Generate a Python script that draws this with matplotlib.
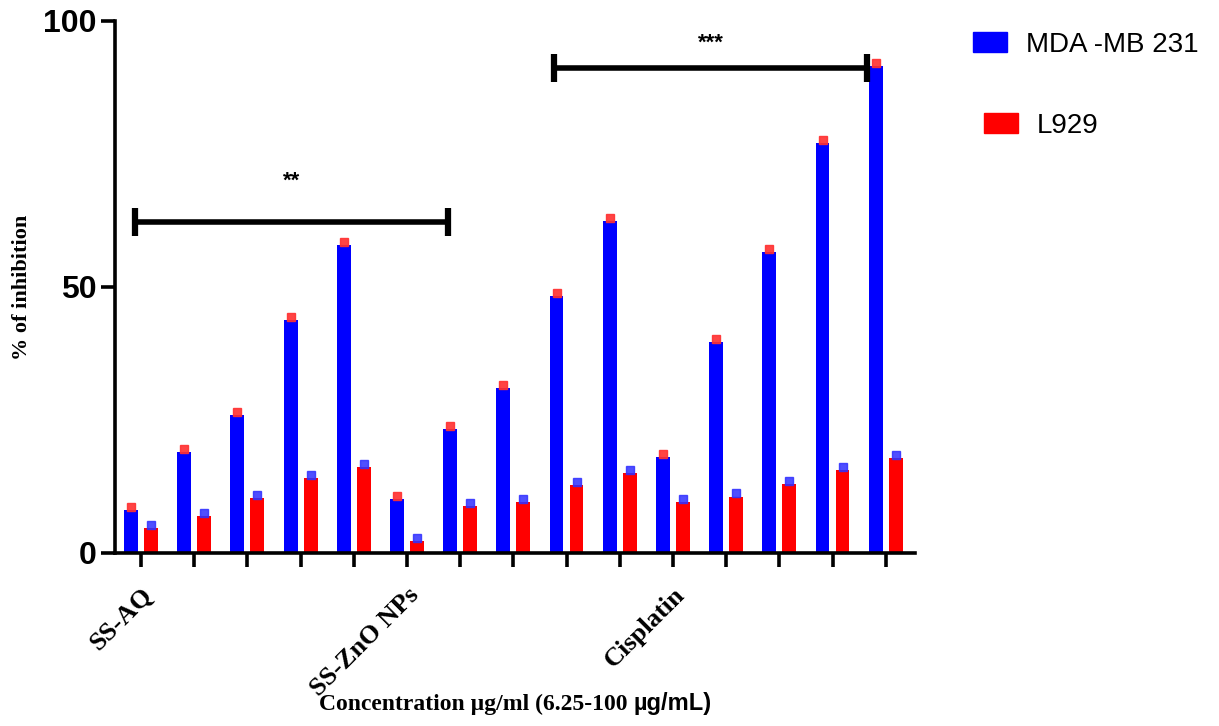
import matplotlib
matplotlib.use('Agg')
import matplotlib.pyplot as plt
from matplotlib.patches import Patch
import numpy as np

# % inhibition, 5 concentrations per compound (6.25-100 ug/mL)
groups = ['SS-AQ', 'SS-ZnO NPs', 'Cisplatin']
mda = [8.1, 19.0, 25.9, 43.8, 57.9,
       10.1, 23.3, 31.0, 48.3, 62.4,
       18.0, 39.7, 56.6, 77.1, 91.5]
l929 = [4.7, 7.0, 10.3, 14.1, 16.2,
        2.3, 8.8, 9.6, 12.8, 15.0,
        9.6, 10.6, 13.0, 15.6, 17.8]
err_mda = [0.6] * 15
err_l929 = [0.6] * 15

blue = '#0000ff'
red = '#ff0000'

fig = plt.figure(figsize=(12.19, 7.26), dpi=100)
ax = fig.add_axes([0.0943, 0.2383, 0.6563, 0.7328])

x = np.arange(len(mda))
w = 0.26
off = 0.188
ax.bar(x - off, mda, w, color=blue, zorder=2)
ax.bar(x + off, l929, w, color=red, zorder=2)
# little error caps (drawn as squares, like the original export)
ax.plot(x - off, np.array(mda) + np.array(err_mda), 's', ms=6,
        color='#ff3030', alpha=0.9, zorder=3)
ax.plot(x + off, np.array(l929) + np.array(err_l929), 's', ms=6,
        color='#3030ff', alpha=0.85, zorder=3)

ax.set_xlim(-0.49, 14.55)
ax.set_ylim(0, 100)
ax.set_yticks([0, 50, 100])
ax.set_xticks(x)
lbls = [''] * 15
for i, g in enumerate(groups):
    lbls[i * 5] = g
ax.set_xticklabels(lbls, rotation=45, ha='right', rotation_mode='anchor',
                   family='Liberation Serif', fontweight='bold', fontsize=19)
for t in ax.get_yticklabels():
    t.set_family('Liberation Sans')
    t.set_fontweight('bold')
    t.set_fontsize(23)

for s in ['top', 'right']:
    ax.spines[s].set_visible(False)
for s in ['left', 'bottom']:
    ax.spines[s].set_linewidth(2.6)
ax.tick_params(axis='both', width=2.6, length=10, pad=3)
ax.tick_params(axis='x', pad=12)

ax.set_ylabel('% of inhibition', family='Liberation Serif', fontweight='bold',
              fontsize=16, labelpad=8)

# significance brackets
def bracket(x0, x1, y, txt, ty):
    ax.plot([x0, x1], [y, y], color='black', lw=4, clip_on=False, zorder=4,
            solid_capstyle='butt')
    for xx in (x0, x1):
        ax.plot([xx, xx], [y - 2.6, y + 2.6], color='black', lw=4.5,
                clip_on=False, zorder=4, solid_capstyle='butt')
    ax.text((x0 + x1) / 2, ty, txt, ha='center', va='center', fontsize=16,
            family='Liberation Sans', fontweight='bold')

bracket(-0.11, 5.77, 62.2, '**', 69.8)
bracket(7.76, 13.65, 91.2, '***', 95.9)

# x axis title, mixed fonts as in the original
t1 = fig.text(0.262, 0.022, 'Concentration \u00b5g/ml (6.25-100 ', ha='left',
              va='baseline', family='Liberation Serif', fontweight='bold',
              fontsize=17)
ax.annotate('\u00b5g/mL)', xy=(1, 0), xycoords=t1, va='bottom', ha='left',
            family='Liberation Sans', fontweight='bold', fontsize=17,
            annotation_clip=False)

# legend (two entries, slightly offset like the original)
fig.legend(handles=[Patch(color=blue, label='MDA -MB 231')], loc='center left',
           bbox_to_anchor=(0.798, 0.938), frameon=False, borderpad=0,
           borderaxespad=0, prop={'family': 'Liberation Sans', 'size': 20},
           handlelength=1.22, handleheight=0.72, handletextpad=0.68)
fig.legend(handles=[Patch(color=red, label='L929')], loc='center left',
           bbox_to_anchor=(0.807, 0.827), frameon=False, borderpad=0,
           borderaxespad=0, prop={'family': 'Liberation Sans', 'size': 20},
           handlelength=1.22, handleheight=0.72, handletextpad=0.68)

fig.savefig('out.png', dpi=100)
